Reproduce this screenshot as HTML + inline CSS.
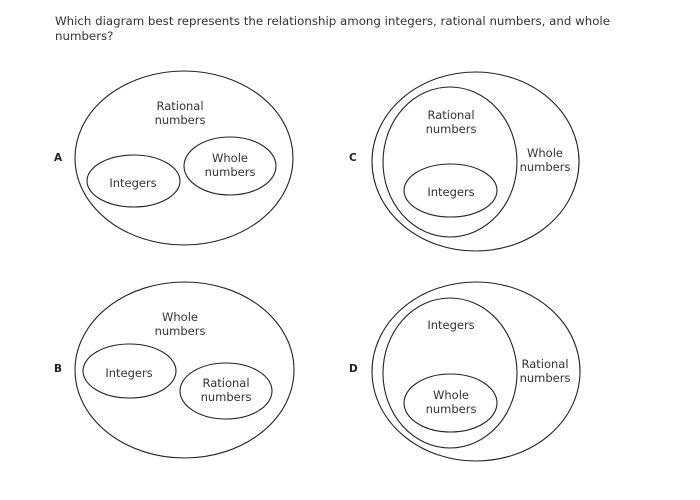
<!DOCTYPE html>
<html><head><meta charset="utf-8"><style>
html,body{margin:0;padding:0;background:#fff;width:700px;height:500px;overflow:hidden}
</style></head><body>
<svg width="700" height="500" xmlns="http://www.w3.org/2000/svg" font-family="DejaVu Sans, Verdana, sans-serif" font-size="11.5" fill="#333">
<text x="55" y="25" font-size="11.8">Which diagram best represents the relationship among integers, rational numbers, and whole</text>
<text x="55" y="40" font-size="11.8">numbers?</text>
<g fill="none" stroke="#222" stroke-width="1.1">
<ellipse cx="184" cy="158" rx="109" ry="87"/>
<ellipse cx="133.5" cy="181" rx="46.5" ry="26"/>
<ellipse cx="230" cy="166" rx="46" ry="29"/>
<ellipse cx="475.5" cy="161.5" rx="103.5" ry="89.5"/>
<ellipse cx="450" cy="162" rx="67" ry="75"/>
<ellipse cx="450.5" cy="190.5" rx="46.5" ry="26.5"/>
<ellipse cx="184.5" cy="370" rx="109.5" ry="88"/>
<ellipse cx="129.5" cy="371" rx="46.5" ry="27"/>
<ellipse cx="226" cy="391" rx="46" ry="28"/>
<ellipse cx="476" cy="371.5" rx="104" ry="89.5"/>
<ellipse cx="450" cy="373" rx="67" ry="75"/>
<ellipse cx="450.5" cy="403" rx="46.5" ry="29"/>
</g>
<g text-anchor="middle">
<text x="180" y="110">Rational</text><text x="180" y="124">numbers</text>
<text x="133" y="187">Integers</text>
<text x="230" y="162">Whole</text><text x="230" y="176">numbers</text>
<text x="451" y="119">Rational</text><text x="451" y="133">numbers</text>
<text x="545" y="157">Whole</text><text x="545" y="171">numbers</text>
<text x="451" y="196">Integers</text>
<text x="180" y="321">Whole</text><text x="180" y="335">numbers</text>
<text x="129" y="377">Integers</text>
<text x="226" y="387">Rational</text><text x="226" y="401">numbers</text>
<text x="451" y="329">Integers</text>
<text x="545" y="368">Rational</text><text x="545" y="382">numbers</text>
<text x="451" y="399">Whole</text><text x="451" y="413">numbers</text>
</g>
<g font-weight="bold" font-size="10.5" fill="#222">
<text x="54" y="161">A</text>
<text x="349" y="161">C</text>
<text x="54" y="372">B</text>
<text x="349" y="372">D</text>
</g>
</svg>
</body></html>
